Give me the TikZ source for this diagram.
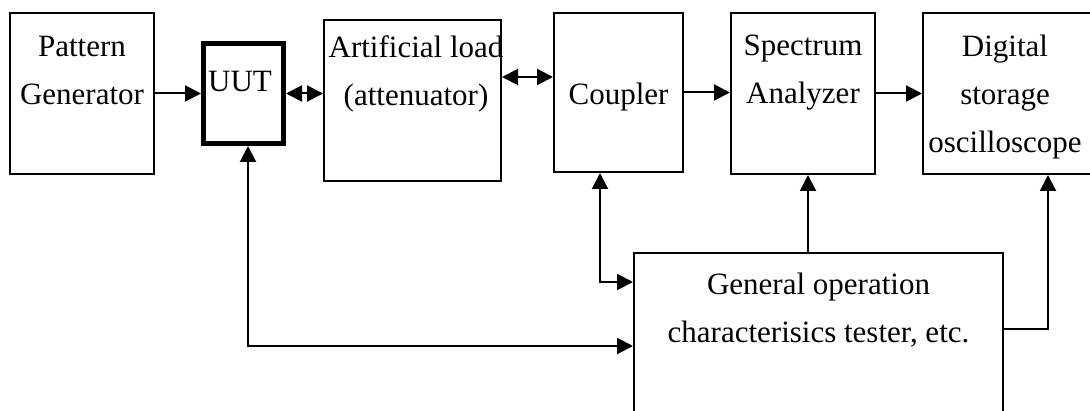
\documentclass[tikz,border=0pt]{standalone}
\usepackage{fontspec}
\setmainfont{Liberation Serif}
\usetikzlibrary{arrows.meta,positioning}

\begin{document}
\begin{tikzpicture}[x=0.5pt,y=-0.5pt,
    box/.style={draw,line width=1pt,inner sep=0pt},
    txt/.style={align=center,inner sep=0pt,anchor=north,font=\fontsize{15.5}{24}\selectfont},
    arr/.style={line width=1pt,-{Triangle[length=8pt,width=8pt]}},
    biarr/.style={line width=1pt,{Triangle[length=8pt,width=8pt]}-{Triangle[length=8pt,width=8pt]}}]
    \useasboundingbox (0,0) rectangle (1090,411);
    \clip (0,0) rectangle (1090,411);

    % Top row of instruments
    \node[box,minimum width=72pt,minimum height=80.5pt] (pg) at (82,93.5) {};
    \node[box,line width=2.5pt,minimum width=40pt,minimum height=50pt] (uut) at (243.5,93.5) {};
    \node[box,minimum width=88.5pt,minimum height=80.5pt] (art) at (412.5,100.5) {};
    \node[box,minimum width=64.5pt,minimum height=79.5pt] (coupler) at (618.5,92.5) {};
    \node[box,minimum width=72pt,minimum height=80.5pt] (spec) at (803,93.5) {};
    \node[box,minimum width=88.5pt,minimum height=80.5pt] (dso) at (1011.5,93.5) {};

    % Tester (runs off the bottom)
    \node[box,minimum width=184.5pt,minimum height=93.5pt] (gen) at (818.5,346.5) {};

    % Labels
    \node[txt] (pgtxt) at (82,36) {Pattern\\Generator};
    \node[txt] (uuttxt) at (240,71) {UUT};
    \node[txt] (arttxt) at (416,35) {Artificial load\\(attenuator)};
    \node[txt] (couplertxt) at (618.5,83) {Coupler};
    \node[txt] (spectxt) at (803,35) {Spectrum\\Analyzer};
    \node[txt] (dsotxt) at (1005,35) {Digital\\storage\\oscilloscope};
    \node[txt] (gentxt) at (818.5,273) {General operation\\characterisics tester, etc.};

    % Signal path
    \draw[arr] (pg.east) -- (uut.west);
    \draw[biarr] (uut.east) -- (uut.east -| art.west);
    \draw[biarr] (art.east |- 0,77) -- (coupler.west |- 0,77);
    \draw[arr] (coupler.east) -- (coupler.east -| spec.west);
    \draw[arr] (spec.east) -- (spec.east -| dso.west);

    % Links to the tester
    \coordinate (uutin) at ([xshift=2.25pt]uut.south);
    \coordinate (cplin) at ([xshift=-9.25pt]coupler.south);
    \coordinate (specin) at ([xshift=2.5pt]spec.south);
    \coordinate (dsoin) at ([xshift=18.25pt]dso.south);
    \draw[biarr] (uutin) |- (gen.west |- 0,346);
    \draw[biarr] (cplin) |- (gen.west |- 0,282);
    \draw[arr] (gen.north -| specin) -- (specin);
    \draw[arr] (gen.east |- 0,329) -| (dsoin);
\end{tikzpicture}
\end{document}
